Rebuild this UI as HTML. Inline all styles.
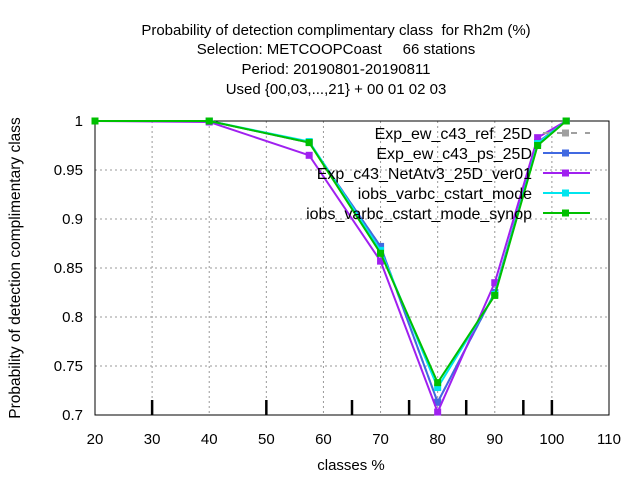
<!DOCTYPE html>
<html><head><meta charset="utf-8"><style>
body{margin:0;background:#fff}
svg text{font-family:"Liberation Sans",sans-serif;font-size:15px;fill:#000;white-space:pre}
</style></head><body>
<svg id="chart" width="640" height="480">
<g text-anchor="middle">
<text x="336" y="35" xml:space="preserve">Probability of detection complimentary class  for Rh2m (%)</text>
<text x="336" y="54" xml:space="preserve">Selection: METCOOPCoast     66 stations</text>
<text x="336" y="74">Period: 20190801-20190811</text>
<text x="336" y="94">Used {00,03,...,21} + 00 01 02 03</text>
</g>
<g id="grid"></g>
<g id="axes"></g>
<text x="351" y="470" text-anchor="middle">classes %</text>
<text transform="translate(20,268) rotate(-90)" text-anchor="middle" style="font-size:15.5px">Probability of detection complimentary class</text>
<g id="series"></g>
<g id="legend"></g>
</svg>
<script>
const xVals=[20,40,57.5,70,80,90,97.5,102.5];
const seriesNames=["Exp_ew_c43_ref_25D","Exp_ew_c43_ps_25D","Exp_c43_NetAtv3_25D_ver01","iobs_varbc_cstart_mode","iobs_varbc_cstart_mode_synop"];
const seriesColors=["#a0a0a0","#4169e1","#a020f0","#00e5ee","#00c000"];
const refVals=[1,1,0.978,0.872,0.713,0.825,0.978,1];
const psVals=[1,1,0.978,0.872,0.713,0.825,0.978,1];
const netVals=[1,0.999,0.965,0.857,0.703,0.835,0.983,1];
const cstartVals=[1,1,0.979,0.868,0.728,0.823,0.977,1];
const synopVals=[1,1,0.978,0.865,0.733,0.822,0.975,1];
const xTicks=[20,30,40,50,60,70,80,90,100,110];
const yTicks=[0.7,0.75,0.8,0.85,0.9,0.95,1];
const classMarks=[30,50,65,75,85,95,100];
const NS="http://www.w3.org/2000/svg";
const L=95,R=609,T=121,B=415;
const X=v=>L+(v-20)/90*(R-L);
const Y=v=>B-(v-0.7)/0.3*(B-T);
function mk(tag,attrs,parent){const e=document.createElementNS(NS,tag);for(const k in attrs)e.setAttribute(k,attrs[k]);parent.appendChild(e);return e;}
const grid=document.getElementById('grid'),axes=document.getElementById('axes');
xTicks.forEach(t=>{
 if(t>20&&t<110){const g=mk('line',{x1:X(t),x2:X(t),y1:T,y2:B,stroke:'#999','stroke-dasharray':'2,3'},grid);
 
 }
 const tx=mk('text',{x:X(t),y:B+29,'text-anchor':'middle'},axes);tx.textContent=t;
 
 
});
yTicks.forEach(t=>{
 if(t>0.7&&t<1){const g=mk('line',{x1:L,x2:R,y1:Y(t),y2:Y(t),stroke:'#999','stroke-dasharray':'2,3'},grid);
 
 }
 const tx=mk('text',{x:L-12,y:Y(t)+5,'text-anchor':'end'},axes);tx.textContent=t;
 
 
});
mk('rect',{x:L,y:T,width:R-L,height:B-T,fill:'none',stroke:'#000'},axes);
classMarks.forEach(c=>{const m=mk('line',{x1:X(c),x2:X(c),y1:B-15,y2:B,stroke:'#000','stroke-width':2.5},axes);
 
 });
const allVals=[refVals,psVals,netVals,cstartVals,synopVals];
const sg=document.getElementById('series'),lg=document.getElementById('legend');
allVals.forEach((vals,i)=>{
 const g=mk('g',{},sg);
 
 
 const pts=vals.map((v,j)=>X(xVals[j])+','+Y(v)).join(' ');
 mk('polyline',{points:pts,fill:'none',stroke:seriesColors[i],'stroke-width':2,'stroke-dasharray':i==0?'6,4':'none'},g);
 vals.forEach((v,j)=>{const p=mk('rect',{x:X(xVals[j])-3.5,y:Y(v)-3.5,width:7,height:7,fill:seriesColors[i]},g);
  
  });
 const ly=133+i*20;
 const e=mk('g',{},lg);
 
 
 const t=mk('text',{x:532,y:ly+6,'text-anchor':'end',style:'font-size:16px'},e);t.textContent=seriesNames[i];
 mk('line',{x1:543,x2:590,y1:ly,y2:ly,stroke:seriesColors[i],'stroke-width':2,'stroke-dasharray':i==0?'6,8':'none'},e);
 mk('rect',{x:562,y:ly-3.5,width:7,height:7,fill:seriesColors[i]},e);
});
</script>
</body></html>
